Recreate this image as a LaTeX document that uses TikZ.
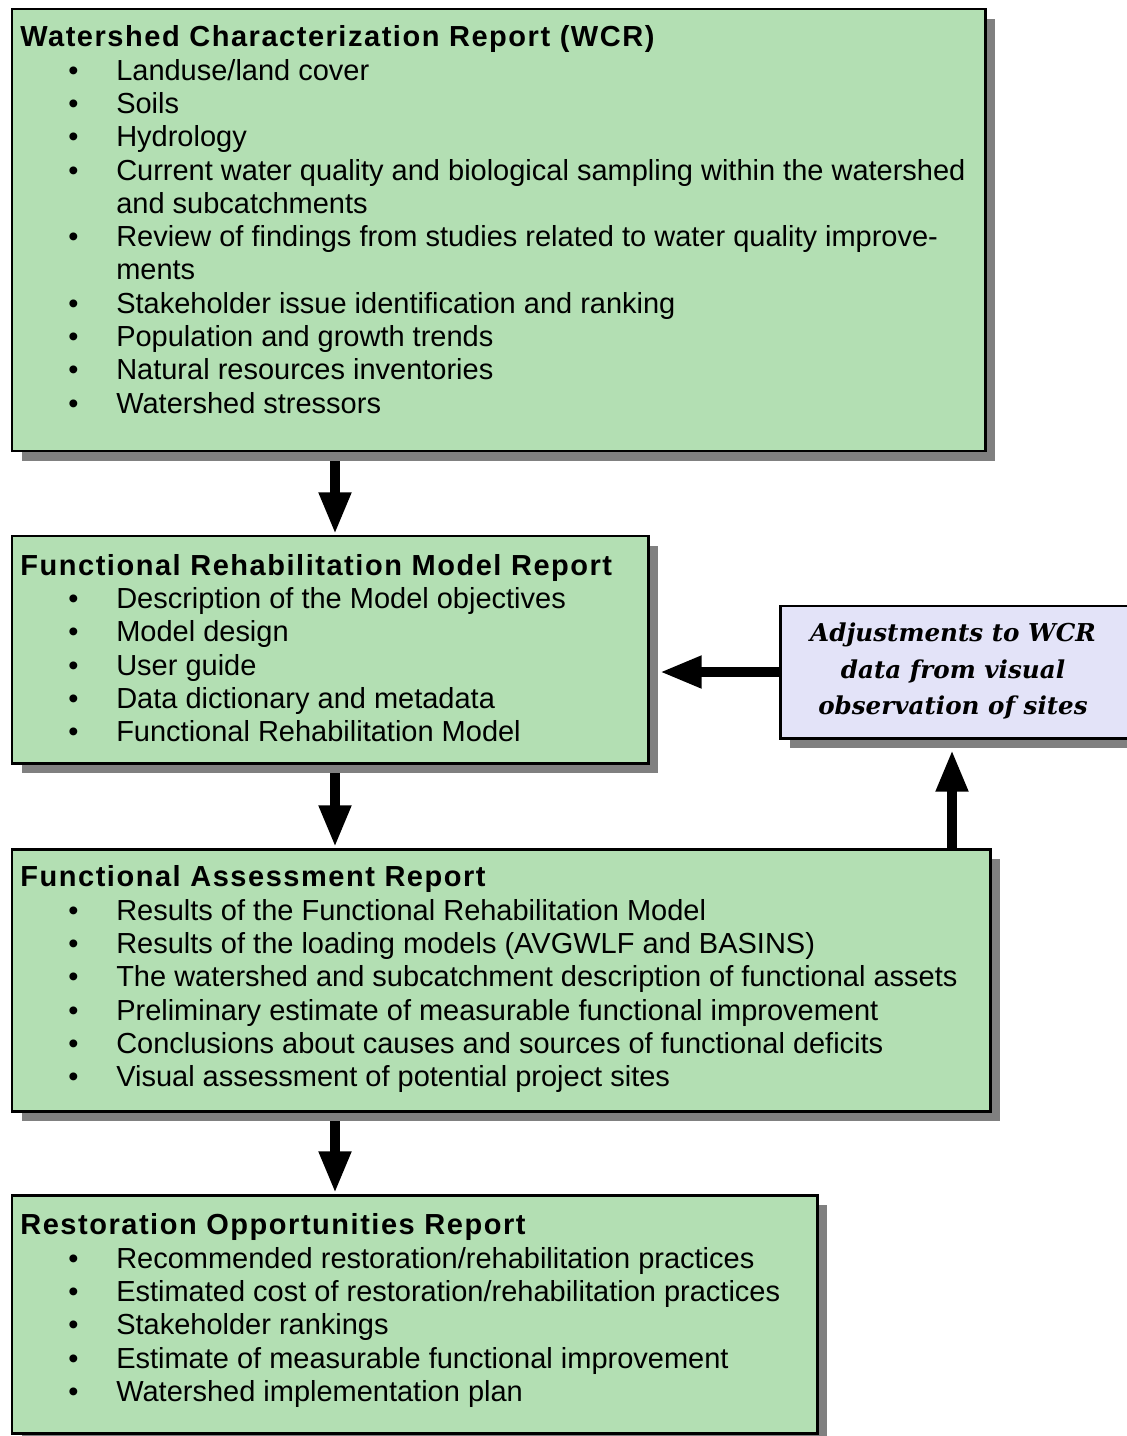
\documentclass[tikz,border=0pt]{standalone}
\usepackage{fontspec}
\setmainfont{Liberation Sans}
\newfontfamily\notefont{DejaVu Serif}
\usetikzlibrary{arrows.meta,fit,shadows,backgrounds}
\definecolor{reportgreen}{HTML}{B3DFB3}
\definecolor{notelilac}{HTML}{E3E3F8}
\definecolor{shadowgray}{HTML}{808080}
\tikzset{
  report/.style={draw, line width=1.7pt, fill=reportgreen, inner sep=0pt,
    drop shadow={shadow xshift=5.7pt, shadow yshift=-5.7pt, fill=shadowgray, opacity=1}},
  note/.style={report, fill=notelilac},
  reporttext/.style={anchor=north west, inner sep=0pt, align=left,
    font=\fontsize{16.5}{18.95}\selectfont},
  notetext/.style={inner sep=0pt, align=center,
    font=\notefont\bfseries\itshape\fontsize{14}{20.5}\selectfont},
  bigarrow/.style={line width=6pt, -{Triangle[length=24pt, width=17pt]}}
}
\newcommand{\reporttitle}[1]{{\bfseries\addfontfeature{LetterSpace=5.3}#1}}
\newcommand{\itm}{\makebox[54.6pt][l]{\hspace{27.3pt}\textbullet}}
\newcommand{\cnt}{\hspace*{54.6pt}}

\begin{document}
\begin{tikzpicture}[x=0.02cm, y=-0.02cm]
\useasboundingbox (0,0) rectangle (1126,1436);

% boxes
\node[report, fit={(12,9) (985,451)}] (wcr) {};
\node[report, fit={(12,536) (648,763)}] (frm) {};
\node[report, fit={(12,849) (990,1111)}] (far) {};
\node[report, fit={(12,1195) (817,1433)}] (ror) {};
\node[note, fit={(780,606) (1130,738)}] (adj) {};

% texts
\node[reporttext] (wcrtext) at (20,25.5) {\reporttitle{Watershed Characterization Report (WCR)}\\
\itm Landuse/land cover\\
\itm Soils\\
\itm Hydrology\\
\itm Current water quality and biological sampling within the watershed\\
\cnt and subcatchments\\
\itm Review of findings from studies related to water quality improve-\\
\cnt ments\\
\itm Stakeholder issue identification and ranking\\
\itm Population and growth trends\\
\itm Natural resources inventories\\
\itm Watershed stressors};

\node[reporttext] (frmtext) at (20,554) {\reporttitle{Functional Rehabilitation Model Report}\\
\itm Description of the Model objectives\\
\itm Model design\\
\itm User guide\\
\itm Data dictionary and metadata\\
\itm Functional Rehabilitation Model};

\node[reporttext] (fartext) at (20,865.5) {\reporttitle{Functional Assessment Report}\\
\itm Results of the Functional Rehabilitation Model\\
\itm Results of the loading models (AVGWLF and BASINS)\\
\itm The watershed and subcatchment description of functional assets\\
\itm Preliminary estimate of measurable functional improvement\\
\itm Conclusions about causes and sources of functional deficits\\
\itm Visual assessment of potential project sites};

\node[reporttext] (rortext) at (20,1213.5) {\reporttitle{Restoration Opportunities Report}\\
\itm Recommended restoration/rehabilitation practices\\
\itm Estimated cost of restoration/rehabilitation practices\\
\itm Stakeholder rankings\\
\itm Estimate of measurable functional improvement\\
\itm Watershed implementation plan};

\node[notetext] (adjtext) at (953,671) {Adjustments to WCR\\ data from visual\\ observation of sites};

% arrows
\coordinate (axis) at (335,0);
\coordinate (riser) at (952,0);
\begin{scope}[on background layer]
\draw[bigarrow] (wcr.south -| axis) -- (frm.north -| axis);
\draw[bigarrow] (frm.south -| axis) -- (far.north -| axis);
\draw[bigarrow] (far.south -| axis) -- (ror.north -| axis);
\draw[bigarrow] (far.north -| riser) -- ([yshift=-5.7pt]adj.south -| riser);
\draw[bigarrow] (adj.west) -- ([xshift=5.7pt]frm.east |- adj.west);
\end{scope}
\end{tikzpicture}
\end{document}
